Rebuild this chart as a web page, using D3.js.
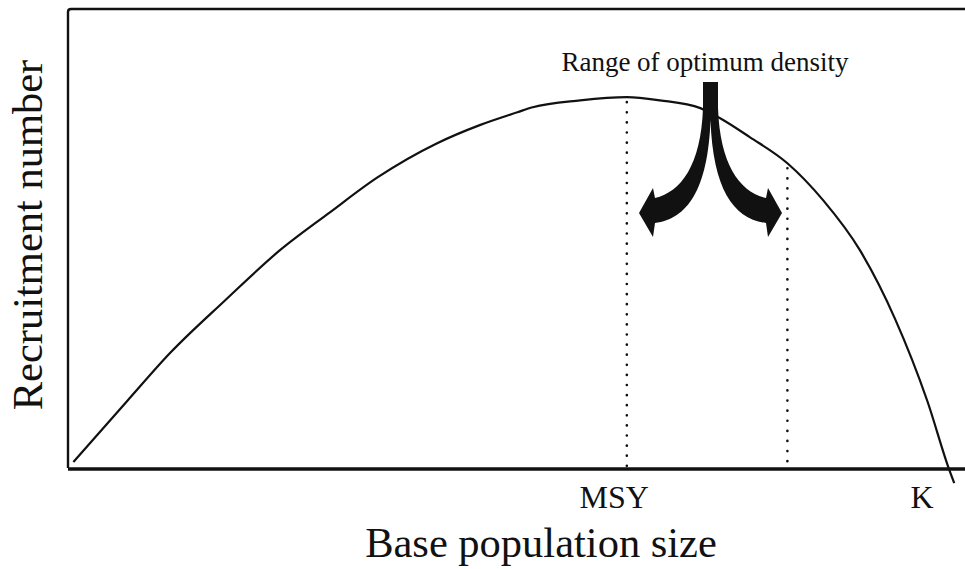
<!DOCTYPE html>
<html>
<head>
<meta charset="utf-8">
<script src="https://cdn.jsdelivr.net/npm/d3@7"></script>
<style>
  html, body { margin: 0; padding: 0; background: #fff; }
  svg { display: block; }
  text { font-family: "Liberation Serif", "DejaVu Serif", serif; fill: #111; }
</style>
</head>
<body>
<script>
// Base population size (relative units, 0-100) and recruitment number (relative units)
const populationSize = [0.6, 6.6, 11.4, 17.5, 23.6, 29.2, 34.5, 41.1, 45.9, 50.1, 51.8, 57.1, 62.3, 66.0, 70.5, 72.7, 76.0, 80.2, 84.2, 88.3, 92.2, 95.8, 98.3, 98.8];
const recruitment    = [1.3, 14.6, 25.1, 36.5, 47.4, 55.7, 63.3, 70.7, 74.7, 77.5, 78.6, 80.1, 80.8, 80.1, 78.4, 76.2, 72.1, 66.4, 58.3, 47.4, 32.5, 14.6, -0.7, -3.3];
const referenceMarks = [62.3, 80.2];           // MSY and the upper end of the optimum range
const axisLabels = [{ text: "MSY", x: 60.9 }, { text: "K", x: 95.2 }];
const titles = { x: "Base population size", y: "Recruitment number", note: "Range of optimum density" };

const W = 965, H = 569;
const svg = d3.select("body").append("svg").attr("width", W).attr("height", H);

const x = d3.scaleLinear().domain([0, 100]).range([68, 965]);
const y = d3.scaleLinear().domain([0, 100]).range([468, 9]);

const ink = "#111";

// Frame: left axis, top border, bottom axis
svg.append("path")
  .attr("d", `M${x(0)},${y(0)} L${x(0)},${y(100) + 3} Q${x(0)},${y(100)} ${x(0) + 3},${y(100)} L${x(100)},${y(100)}`)
  .attr("fill", "none").attr("stroke", ink).attr("stroke-width", 2.4);
svg.append("line")
  .attr("x1", x(0)).attr("x2", x(100)).attr("y1", y(0) + 1).attr("y2", y(0) + 1)
  .attr("stroke", ink).attr("stroke-width", 3.4);

// Reference dotted lines from the curve down to the axis
const interp = v => {
  for (let i = 1; i < populationSize.length; i++) {
    if (v <= populationSize[i]) {
      const t = (v - populationSize[i - 1]) / (populationSize[i] - populationSize[i - 1]);
      return recruitment[i - 1] + t * (recruitment[i] - recruitment[i - 1]);
    }
  }
  return 0;
};
svg.selectAll("line.ref").data(referenceMarks).join("line")
  .attr("class", "ref")
  .attr("x1", d => x(d)).attr("x2", d => x(d))
  .attr("y1", d => y(interp(d)) + 5).attr("y2", y(0) - 2)
  .attr("stroke", ink).attr("stroke-width", 2.6)
  .attr("stroke-linecap", "round").attr("stroke-dasharray", "0.1 10");

// Recruitment curve
const pts = populationSize.map((p, i) => [p, recruitment[i]]);
svg.append("path")
  .datum(pts)
  .attr("d", d3.line().x(d => x(d[0])).y(d => y(d[1])).curve(d3.curveMonotoneX))
  .attr("fill", "none").attr("stroke", ink).attr("stroke-width", 2.2);

// Double curved arrow (annotation)
svg.append("path")
  .attr("d", "M703,82 L718,82 L718,108 C720,165 740,192 766,198 L768,188 L782,213 L768,237 L766,223 C734,219 713,190 710.5,120 C708,190 687,219 655,223 L653,237 L639,213 L653,188 L655,198 C681,192 701,165 703,108 Z")
  .attr("fill", ink);

// Texts
svg.append("text").attr("x", 705).attr("y", 71).attr("text-anchor", "middle")
  .attr("font-size", 27).text(titles.note);

svg.selectAll("text.tick").data(axisLabels).join("text")
  .attr("class", "tick")
  .attr("x", d => x(d.x)).attr("y", 508).attr("text-anchor", "middle")
  .attr("font-size", 32).text(d => d.text);

svg.append("text").attr("x", 541).attr("y", 557).attr("text-anchor", "middle")
  .attr("font-size", 42.5).text(titles.x);

svg.append("text").attr("transform", "translate(42,235) rotate(-90)")
  .attr("text-anchor", "middle").attr("font-size", 42.5).text(titles.y);
</script>
</body>
</html>
